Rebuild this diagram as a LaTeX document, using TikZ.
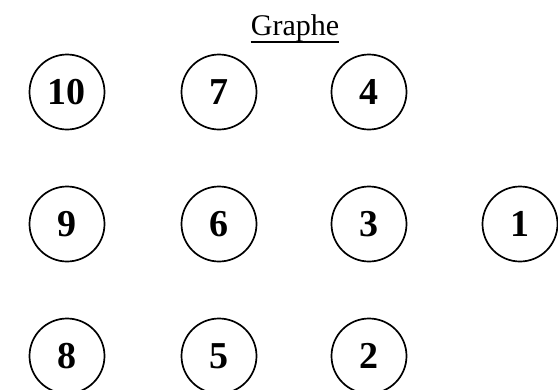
\documentclass[tikz,border=0pt]{standalone}
\usepackage{fontspec}
\setmainfont{Liberation Serif}
\begin{document}
\begin{tikzpicture}[x=1pt,y=-1pt,
  vert/.style={draw, circle, line width=1.7pt, minimum size=75pt, inner sep=0pt,
    font=\fontsize{38}{38}\selectfont\bfseries}]
\useasboundingbox (0,0) rectangle (558,389);
\node[anchor=base, font=\fontsize{30}{30}\selectfont, inner sep=0pt] (title) at (295,35) {Graphe};
\draw[line width=1.2pt] ([yshift=-7pt]title.base west) -- ([yshift=-7pt]title.base east);
\node[vert] (n10) at (67,92) {10};
\node[vert] (n7) at (219,92) {7};
\node[vert] (n4) at (369,92) {4};
\node[vert] (n9) at (67,224) {9};
\node[vert] (n6) at (219,224) {6};
\node[vert] (n3) at (369,224) {3};
\node[vert] (n1) at (520,224) {1};
\node[vert] (n8) at (67,356) {8};
\node[vert] (n5) at (219,356) {5};
\node[vert] (n2) at (369,356) {2};
\end{tikzpicture}
\end{document}
